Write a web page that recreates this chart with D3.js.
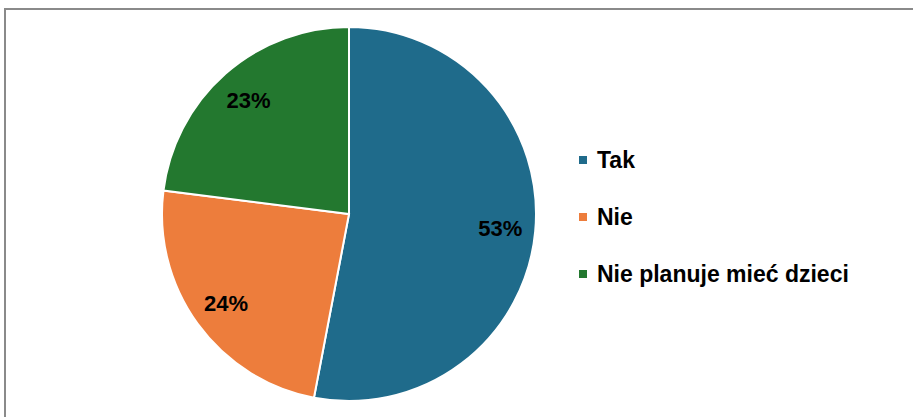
<!DOCTYPE html>
<html>
<head>
<meta charset="utf-8">
<script src="https://cdn.jsdelivr.net/npm/d3@7"></script>
<style>
  body { margin: 0; background: #fff; }
  text { font-family: "Liberation Sans", Arial, sans-serif; font-weight: bold; }
</style>
</head>
<body>
<svg id="chart" width="913" height="417"></svg>
<script>
// chart data
let categories = ["Tak", "Nie", "Nie planuje mieć dzieci"];
let values = [53, 24, 23];
let colors = ["#1f6b8b", "#ed7d3c", "#23782f"];

let svg = d3.select("#chart"),
    cx = 349,
    cy = 214,
    radius = 187;

// outer frame (goes off the page on right and bottom)
svg.append("rect")
    .attr("x", 5)
    .attr("y", 9)
    .attr("width", 1000)
    .attr("height", 500)
    .attr("fill", "none")
    .attr("stroke", "#8a8a8a")
    .attr("stroke-width", 2);

let pie = d3.pie().sort(null).value(function(d) { return d; });
let arc = d3.arc().innerRadius(0).outerRadius(radius);
let labelArc = d3.arc().innerRadius(152).outerRadius(152);

let g = svg.append("g")
    .attr("transform", "translate(" + cx + "," + cy + ")");

let slices = pie(values);

g.selectAll(".slice")
    .data(slices)
    .enter().append("path")
    .attr("class", "slice")
    .attr("d", arc)
    .attr("fill", function(d, i) { return colors[i]; })
    .attr("stroke", "#fff")
    .attr("stroke-width", 2);

// percent labels
g.selectAll(".lbl")
    .data(slices)
    .enter().append("text")
    .attr("class", "lbl")
    .attr("transform", function(d) { return "translate(" + labelArc.centroid(d) + ")"; })
    .attr("text-anchor", "middle")
    .attr("dy", "0.36em")
    .attr("font-size", "22px")
    .attr("fill", "#000")
    .text(function(d) { return d.data + "%"; });

// legend
let legend = svg.append("g")
    .attr("transform", "translate(579,160)");

let rows = legend.selectAll(".row")
    .data(categories)
    .enter().append("g")
    .attr("class", "row")
    .attr("transform", function(d, i) { return "translate(0," + (i * 57) + ")"; });

rows.append("rect")
    .attr("x", 0)
    .attr("y", -4)
    .attr("width", 8)
    .attr("height", 8)
    .attr("fill", function(d, i) { return colors[i]; });

rows.append("text")
    .attr("x", 18)
    .attr("dy", "0.36em")
    .attr("font-size", "23px")
    .attr("fill", "#000")
    .text(function(d) { return d; });
</script>
</body>
</html>
